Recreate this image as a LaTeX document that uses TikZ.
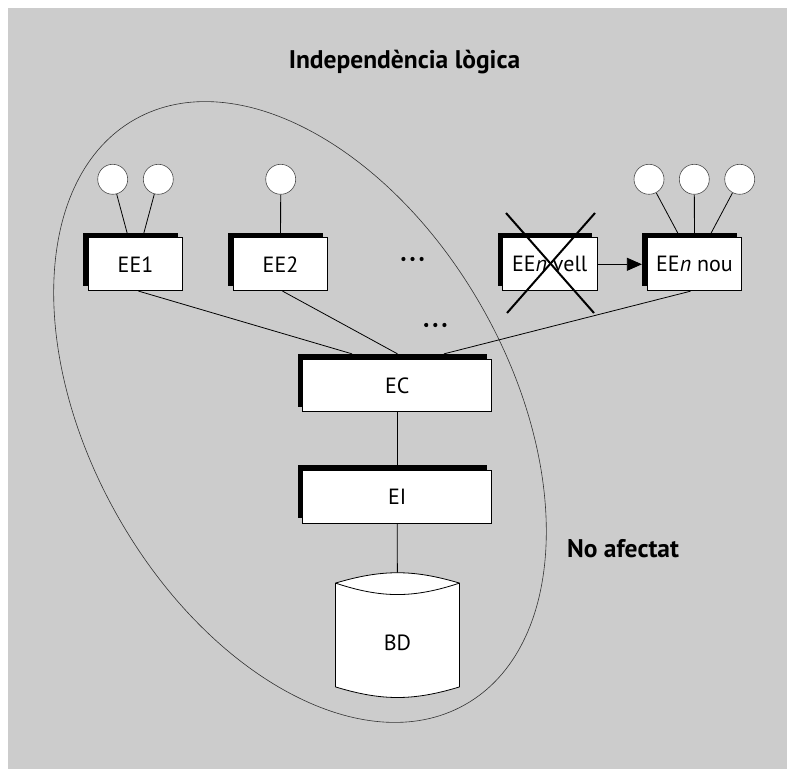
\documentclass[tikz,border=0pt]{standalone}
\usepackage{fontspec}
\setmainfont{PT Sans}
\usetikzlibrary{shadows,calc,arrows.meta}
\definecolor{bggray}{RGB}{204,204,204}
\pgfdeclarelayer{back}
\pgfdeclarelayer{conn}
\pgfsetlayers{back,conn,main}
\begin{document}
\begin{tikzpicture}[x=1pt,y=1pt,
  box/.style={draw=black, line width=0.8pt, fill=white, minimum width=94.4pt, minimum height=53pt, inner sep=0pt,
    font=\fontsize{22}{26}\selectfont,
    general shadow={fill=black, shadow xshift=-5pt, shadow yshift=5pt}},
  widebox/.style={box, minimum width=189pt, minimum height=52.5pt},
  user/.style={circle, draw=black!70, fill=white, minimum size=30pt, inner sep=0pt, line width=0.6pt},
  conn/.style={draw=black, line width=0.8pt},
  lbl/.style={font=\bfseries\fontsize{25.5}{30}\selectfont},
  txt/.style={font=\fontsize{22}{26}\selectfont, inner sep=0pt},
  crossline/.style={line width=2pt, draw=black}
]
\useasboundingbox (0,0) rectangle (787,769);
\begin{pgfonlayer}{back}
  \fill[bggray] (8,0) rectangle (787,761);
  \draw[line width=0.6pt, draw=black!80, rotate around={-60.6:(300,357)}] (300,357) ellipse [x radius=336, y radius=210];
\end{pgfonlayer}

% title and label
\node[lbl] (title) at (404.5,707) {Independència lògica};
\node[lbl] (noaf) at (623,220) {No afectat};

% boxes
\node[box] (ee1) at (135.5,504.8) {EE1};
\node[box] (ee2) at (280.5,504.8) {EE2};
\node[box] (vell) at (549.7,504.7) {EE\textit{n} vell};
\node[box] (nou) at (694.5,504.7) {EE\textit{n} nou};
\node[widebox] (ec) at (397.2,383.5) {EC};
\node[widebox] (ei) at (397.2,272.3) {EI};

% users
\node[user] (u11) at (112.7,589.7) {};
\node[user] (u12) at (158.3,589.7) {};
\node[user] (u21) at (280.7,589.7) {};
\node[user] (u31) at (649,589.7) {};
\node[user] (u32) at (694.3,589.7) {};
\node[user] (u33) at (739.7,589.7) {};

% database
\node[minimum width=123.6pt, minimum height=121.7pt, inner sep=0pt] (bd) at (397.5,133.85) {};
\coordinate (tl) at ($(bd.north west)+(0,-9)$);
\coordinate (tr) at ($(bd.north east)+(0,-9)$);
\coordinate (bl) at ($(bd.south west)+(0,9.3)$);
\coordinate (br) at ($(bd.south east)+(0,9.3)$);
\draw[line width=0.8pt, fill=white] (tl) -- (bl) to[bend right=17] (br) -- (tr) to[bend right=16.6] (tl) -- cycle;
\draw[line width=0.8pt] (tl) to[bend right=18.4] (tr);
\node[txt] (bdlabel) at ($(bd.center)+(0,-8)$) {BD};

% connectors
\begin{pgfonlayer}{conn}
  \draw[conn] (u11) -- (ee1);
  \draw[conn] (u12) -- (ee1);
  \draw[conn] (u21) -- (ee2);
  \draw[conn] (u31) -- (nou);
  \draw[conn] (u32) -- (nou);
  \draw[conn] (u33) -- (nou);
  \draw[conn] ($(ee1.south)+(3,0)$) -- ($(ec.north)+(-45.2,5)$);
  \draw[conn] ($(ee2.south)+(2,0)$) -- ($(ec.north)+(0.3,5)$);
  \draw[conn] ($(nou.south)+(-4,0)$) -- ($(ec.north)+(46.8,5)$);
  \draw[conn] (ec) -- (ei);
  \draw[conn] (ei) -- (bd);
\end{pgfonlayer}

\draw[conn, -{Triangle[length=15pt,width=13pt]}] (vell.east) -- ($(nou.west)+(-5,0)$);

% cross over the old schema
\draw[crossline] ($(vell.center)+(-43.7,51.3)$) -- ($(vell.center)+(44.3,-48.7)$);
\draw[crossline] ($(vell.center)+(45.3,51.3)$) -- ($(vell.center)+(-42.7,-48.7)$);

% dots
\foreach \x in {403.4,412.5,421.6} \fill (\x,510) circle (2.1);
\foreach \x in {426.2,435.3,444.4} \fill (\x,444) circle (2.1);
\end{tikzpicture}
\end{document}
